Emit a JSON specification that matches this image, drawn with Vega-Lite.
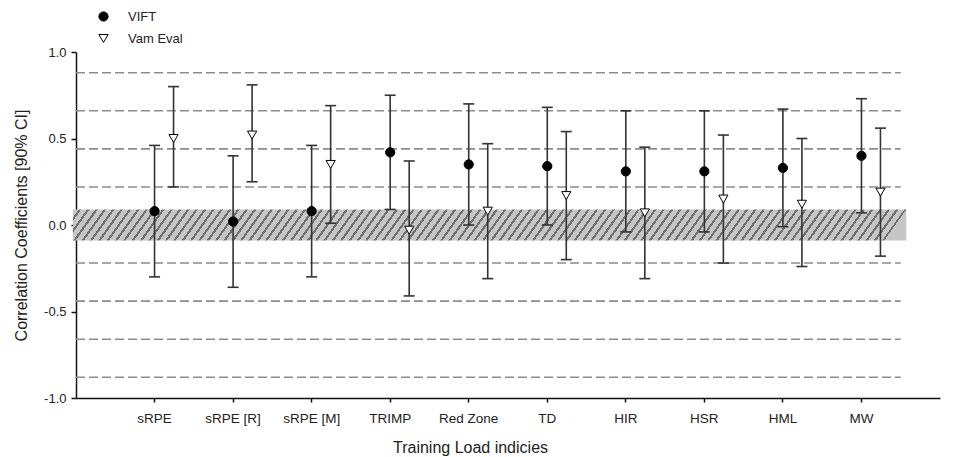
{
  "$schema": "https://vega.github.io/schema/vega-lite/v6.json",
  "width": 864,
  "height": 346,
  "autosize": "none",
  "padding": {"left": 76, "top": 52, "right": 33, "bottom": 59},
  "background": "white",
  "config": {
    "view": {"stroke": null},
    "font": "Liberation Sans",
    "axisY": {
      "labelExpr": "datum.value < 0 ? '-' + format(-datum.value, '.1f') : format(datum.value, '.1f')",
      "grid": false,
      "domainColor": "#111",
      "domainWidth": 1.5,
      "tickColor": "#111",
      "tickWidth": 1.5,
      "tickSize": 5,
      "labelFontSize": 13,
      "labelPadding": 5,
      "labelColor": "#222",
      "titleFontSize": 16,
      "titleFontWeight": "normal",
      "titleColor": "#222",
      "titlePadding": 14
    },
    "axisX": {
      "labelAngle": 0,
      "grid": false,
      "domainColor": "#111",
      "domainWidth": 1.5,
      "tickColor": "#111",
      "tickWidth": 1.5,
      "tickSize": 4,
      "labelFontSize": 13.5,
      "labelPadding": 9,
      "labelColor": "#222",
      "titleFontSize": 16,
      "titleFontWeight": "normal",
      "titleColor": "#222",
      "titlePadding": 15,
      "titleX": 394,
      "titleAlign": "center"
    }
  },
  "datasets": {
    "refs": [
      {"t": 0.88}, {"t": 0.66}, {"t": 0.44}, {"t": 0.22},
      {"t": -0.22}, {"t": -0.44}, {"t": -0.66}, {"t": -0.88}
    ],
    "band": [{"lo": -0.09, "hi": 0.09}],
    "corr": [
      {"index": "sRPE", "series": "VIFT", "r": 0.08, "lo": -0.30, "hi": 0.46},
      {"index": "sRPE", "series": "Vam Eval", "r": 0.50, "lo": 0.22, "hi": 0.80},
      {"index": "sRPE [R]", "series": "VIFT", "r": 0.02, "lo": -0.36, "hi": 0.40},
      {"index": "sRPE [R]", "series": "Vam Eval", "r": 0.52, "lo": 0.25, "hi": 0.81},
      {"index": "sRPE [M]", "series": "VIFT", "r": 0.08, "lo": -0.30, "hi": 0.46},
      {"index": "sRPE [M]", "series": "Vam Eval", "r": 0.35, "lo": 0.01, "hi": 0.69},
      {"index": "TRIMP", "series": "VIFT", "r": 0.42, "lo": 0.09, "hi": 0.75},
      {"index": "TRIMP", "series": "Vam Eval", "r": -0.03, "lo": -0.41, "hi": 0.37},
      {"index": "Red Zone", "series": "VIFT", "r": 0.35, "lo": 0.00, "hi": 0.70},
      {"index": "Red Zone", "series": "Vam Eval", "r": 0.08, "lo": -0.31, "hi": 0.47},
      {"index": "TD", "series": "VIFT", "r": 0.34, "lo": 0.00, "hi": 0.68},
      {"index": "TD", "series": "Vam Eval", "r": 0.17, "lo": -0.20, "hi": 0.54},
      {"index": "HIR", "series": "VIFT", "r": 0.31, "lo": -0.04, "hi": 0.66},
      {"index": "HIR", "series": "Vam Eval", "r": 0.07, "lo": -0.31, "hi": 0.45},
      {"index": "HSR", "series": "VIFT", "r": 0.31, "lo": -0.04, "hi": 0.66},
      {"index": "HSR", "series": "Vam Eval", "r": 0.15, "lo": -0.22, "hi": 0.52},
      {"index": "HML", "series": "VIFT", "r": 0.33, "lo": -0.01, "hi": 0.67},
      {"index": "HML", "series": "Vam Eval", "r": 0.12, "lo": -0.24, "hi": 0.50},
      {"index": "MW", "series": "VIFT", "r": 0.40, "lo": 0.07, "hi": 0.73},
      {"index": "MW", "series": "Vam Eval", "r": 0.19, "lo": -0.18, "hi": 0.56}
    ]
  },
  "layer": [
    {
      "layer": [
        {
          "data": {"name": "band"},
          "mark": {
            "type": "rect",
            "fill": {
              "gradient": "linear", "x1": 0, "y1": 0, "x2": 1, "y2": 0.0267,
              "stops": [
                {"offset":0,"color":"#c6c6c6"},
                {"offset":0.007,"color":"#c6c6c6"},{"offset":0.007,"color":"#6e6e6e"},{"offset":0.01,"color":"#6e6e6e"},{"offset":0.01,"color":"#c6c6c6"},
                {"offset":0.017,"color":"#c6c6c6"},{"offset":0.017,"color":"#6e6e6e"},{"offset":0.02,"color":"#6e6e6e"},{"offset":0.02,"color":"#c6c6c6"},
                {"offset":0.027,"color":"#c6c6c6"},{"offset":0.027,"color":"#6e6e6e"},{"offset":0.03,"color":"#6e6e6e"},{"offset":0.03,"color":"#c6c6c6"},
                {"offset":0.037,"color":"#c6c6c6"},{"offset":0.037,"color":"#6e6e6e"},{"offset":0.04,"color":"#6e6e6e"},{"offset":0.04,"color":"#c6c6c6"},
                {"offset":0.047,"color":"#c6c6c6"},{"offset":0.047,"color":"#6e6e6e"},{"offset":0.05,"color":"#6e6e6e"},{"offset":0.05,"color":"#c6c6c6"},
                {"offset":0.057,"color":"#c6c6c6"},{"offset":0.057,"color":"#6e6e6e"},{"offset":0.06,"color":"#6e6e6e"},{"offset":0.06,"color":"#c6c6c6"},
                {"offset":0.067,"color":"#c6c6c6"},{"offset":0.067,"color":"#6e6e6e"},{"offset":0.07,"color":"#6e6e6e"},{"offset":0.07,"color":"#c6c6c6"},
                {"offset":0.077,"color":"#c6c6c6"},{"offset":0.077,"color":"#6e6e6e"},{"offset":0.08,"color":"#6e6e6e"},{"offset":0.08,"color":"#c6c6c6"},
                {"offset":0.087,"color":"#c6c6c6"},{"offset":0.087,"color":"#6e6e6e"},{"offset":0.09,"color":"#6e6e6e"},{"offset":0.09,"color":"#c6c6c6"},
                {"offset":0.097,"color":"#c6c6c6"},{"offset":0.097,"color":"#6e6e6e"},{"offset":0.1,"color":"#6e6e6e"},{"offset":0.1,"color":"#c6c6c6"},
                {"offset":0.107,"color":"#c6c6c6"},{"offset":0.107,"color":"#6e6e6e"},{"offset":0.11,"color":"#6e6e6e"},{"offset":0.11,"color":"#c6c6c6"},
                {"offset":0.117,"color":"#c6c6c6"},{"offset":0.117,"color":"#6e6e6e"},{"offset":0.12,"color":"#6e6e6e"},{"offset":0.12,"color":"#c6c6c6"},
                {"offset":0.127,"color":"#c6c6c6"},{"offset":0.127,"color":"#6e6e6e"},{"offset":0.13,"color":"#6e6e6e"},{"offset":0.13,"color":"#c6c6c6"},
                {"offset":0.137,"color":"#c6c6c6"},{"offset":0.137,"color":"#6e6e6e"},{"offset":0.14,"color":"#6e6e6e"},{"offset":0.14,"color":"#c6c6c6"},
                {"offset":0.147,"color":"#c6c6c6"},{"offset":0.147,"color":"#6e6e6e"},{"offset":0.15,"color":"#6e6e6e"},{"offset":0.15,"color":"#c6c6c6"},
                {"offset":0.157,"color":"#c6c6c6"},{"offset":0.157,"color":"#6e6e6e"},{"offset":0.16,"color":"#6e6e6e"},{"offset":0.16,"color":"#c6c6c6"},
                {"offset":0.167,"color":"#c6c6c6"},{"offset":0.167,"color":"#6e6e6e"},{"offset":0.17,"color":"#6e6e6e"},{"offset":0.17,"color":"#c6c6c6"},
                {"offset":0.177,"color":"#c6c6c6"},{"offset":0.177,"color":"#6e6e6e"},{"offset":0.18,"color":"#6e6e6e"},{"offset":0.18,"color":"#c6c6c6"},
                {"offset":0.187,"color":"#c6c6c6"},{"offset":0.187,"color":"#6e6e6e"},{"offset":0.19,"color":"#6e6e6e"},{"offset":0.19,"color":"#c6c6c6"},
                {"offset":0.197,"color":"#c6c6c6"},{"offset":0.197,"color":"#6e6e6e"},{"offset":0.2,"color":"#6e6e6e"},{"offset":0.2,"color":"#c6c6c6"},
                {"offset":0.207,"color":"#c6c6c6"},{"offset":0.207,"color":"#6e6e6e"},{"offset":0.21,"color":"#6e6e6e"},{"offset":0.21,"color":"#c6c6c6"},
                {"offset":0.217,"color":"#c6c6c6"},{"offset":0.217,"color":"#6e6e6e"},{"offset":0.22,"color":"#6e6e6e"},{"offset":0.22,"color":"#c6c6c6"},
                {"offset":0.227,"color":"#c6c6c6"},{"offset":0.227,"color":"#6e6e6e"},{"offset":0.23,"color":"#6e6e6e"},{"offset":0.23,"color":"#c6c6c6"},
                {"offset":0.237,"color":"#c6c6c6"},{"offset":0.237,"color":"#6e6e6e"},{"offset":0.24,"color":"#6e6e6e"},{"offset":0.24,"color":"#c6c6c6"},
                {"offset":0.247,"color":"#c6c6c6"},{"offset":0.247,"color":"#6e6e6e"},{"offset":0.25,"color":"#6e6e6e"},{"offset":0.25,"color":"#c6c6c6"},
                {"offset":0.257,"color":"#c6c6c6"},{"offset":0.257,"color":"#6e6e6e"},{"offset":0.26,"color":"#6e6e6e"},{"offset":0.26,"color":"#c6c6c6"},
                {"offset":0.267,"color":"#c6c6c6"},{"offset":0.267,"color":"#6e6e6e"},{"offset":0.27,"color":"#6e6e6e"},{"offset":0.27,"color":"#c6c6c6"},
                {"offset":0.277,"color":"#c6c6c6"},{"offset":0.277,"color":"#6e6e6e"},{"offset":0.28,"color":"#6e6e6e"},{"offset":0.28,"color":"#c6c6c6"},
                {"offset":0.287,"color":"#c6c6c6"},{"offset":0.287,"color":"#6e6e6e"},{"offset":0.29,"color":"#6e6e6e"},{"offset":0.29,"color":"#c6c6c6"},
                {"offset":0.297,"color":"#c6c6c6"},{"offset":0.297,"color":"#6e6e6e"},{"offset":0.3,"color":"#6e6e6e"},{"offset":0.3,"color":"#c6c6c6"},
                {"offset":0.307,"color":"#c6c6c6"},{"offset":0.307,"color":"#6e6e6e"},{"offset":0.31,"color":"#6e6e6e"},{"offset":0.31,"color":"#c6c6c6"},
                {"offset":0.317,"color":"#c6c6c6"},{"offset":0.317,"color":"#6e6e6e"},{"offset":0.32,"color":"#6e6e6e"},{"offset":0.32,"color":"#c6c6c6"},
                {"offset":0.327,"color":"#c6c6c6"},{"offset":0.327,"color":"#6e6e6e"},{"offset":0.33,"color":"#6e6e6e"},{"offset":0.33,"color":"#c6c6c6"},
                {"offset":0.337,"color":"#c6c6c6"},{"offset":0.337,"color":"#6e6e6e"},{"offset":0.34,"color":"#6e6e6e"},{"offset":0.34,"color":"#c6c6c6"},
                {"offset":0.347,"color":"#c6c6c6"},{"offset":0.347,"color":"#6e6e6e"},{"offset":0.35,"color":"#6e6e6e"},{"offset":0.35,"color":"#c6c6c6"},
                {"offset":0.357,"color":"#c6c6c6"},{"offset":0.357,"color":"#6e6e6e"},{"offset":0.36,"color":"#6e6e6e"},{"offset":0.36,"color":"#c6c6c6"},
                {"offset":0.367,"color":"#c6c6c6"},{"offset":0.367,"color":"#6e6e6e"},{"offset":0.37,"color":"#6e6e6e"},{"offset":0.37,"color":"#c6c6c6"},
                {"offset":0.377,"color":"#c6c6c6"},{"offset":0.377,"color":"#6e6e6e"},{"offset":0.38,"color":"#6e6e6e"},{"offset":0.38,"color":"#c6c6c6"},
                {"offset":0.387,"color":"#c6c6c6"},{"offset":0.387,"color":"#6e6e6e"},{"offset":0.39,"color":"#6e6e6e"},{"offset":0.39,"color":"#c6c6c6"},
                {"offset":0.397,"color":"#c6c6c6"},{"offset":0.397,"color":"#6e6e6e"},{"offset":0.4,"color":"#6e6e6e"},{"offset":0.4,"color":"#c6c6c6"},
                {"offset":0.407,"color":"#c6c6c6"},{"offset":0.407,"color":"#6e6e6e"},{"offset":0.41,"color":"#6e6e6e"},{"offset":0.41,"color":"#c6c6c6"},
                {"offset":0.417,"color":"#c6c6c6"},{"offset":0.417,"color":"#6e6e6e"},{"offset":0.42,"color":"#6e6e6e"},{"offset":0.42,"color":"#c6c6c6"},
                {"offset":0.427,"color":"#c6c6c6"},{"offset":0.427,"color":"#6e6e6e"},{"offset":0.43,"color":"#6e6e6e"},{"offset":0.43,"color":"#c6c6c6"},
                {"offset":0.437,"color":"#c6c6c6"},{"offset":0.437,"color":"#6e6e6e"},{"offset":0.44,"color":"#6e6e6e"},{"offset":0.44,"color":"#c6c6c6"},
                {"offset":0.447,"color":"#c6c6c6"},{"offset":0.447,"color":"#6e6e6e"},{"offset":0.45,"color":"#6e6e6e"},{"offset":0.45,"color":"#c6c6c6"},
                {"offset":0.457,"color":"#c6c6c6"},{"offset":0.457,"color":"#6e6e6e"},{"offset":0.46,"color":"#6e6e6e"},{"offset":0.46,"color":"#c6c6c6"},
                {"offset":0.467,"color":"#c6c6c6"},{"offset":0.467,"color":"#6e6e6e"},{"offset":0.47,"color":"#6e6e6e"},{"offset":0.47,"color":"#c6c6c6"},
                {"offset":0.477,"color":"#c6c6c6"},{"offset":0.477,"color":"#6e6e6e"},{"offset":0.48,"color":"#6e6e6e"},{"offset":0.48,"color":"#c6c6c6"},
                {"offset":0.487,"color":"#c6c6c6"},{"offset":0.487,"color":"#6e6e6e"},{"offset":0.49,"color":"#6e6e6e"},{"offset":0.49,"color":"#c6c6c6"},
                {"offset":0.497,"color":"#c6c6c6"},{"offset":0.497,"color":"#6e6e6e"},{"offset":0.5,"color":"#6e6e6e"},{"offset":0.5,"color":"#c6c6c6"},
                {"offset":0.507,"color":"#c6c6c6"},{"offset":0.507,"color":"#6e6e6e"},{"offset":0.51,"color":"#6e6e6e"},{"offset":0.51,"color":"#c6c6c6"},
                {"offset":0.517,"color":"#c6c6c6"},{"offset":0.517,"color":"#6e6e6e"},{"offset":0.52,"color":"#6e6e6e"},{"offset":0.52,"color":"#c6c6c6"},
                {"offset":0.527,"color":"#c6c6c6"},{"offset":0.527,"color":"#6e6e6e"},{"offset":0.53,"color":"#6e6e6e"},{"offset":0.53,"color":"#c6c6c6"},
                {"offset":0.537,"color":"#c6c6c6"},{"offset":0.537,"color":"#6e6e6e"},{"offset":0.54,"color":"#6e6e6e"},{"offset":0.54,"color":"#c6c6c6"},
                {"offset":0.547,"color":"#c6c6c6"},{"offset":0.547,"color":"#6e6e6e"},{"offset":0.55,"color":"#6e6e6e"},{"offset":0.55,"color":"#c6c6c6"},
                {"offset":0.557,"color":"#c6c6c6"},{"offset":0.557,"color":"#6e6e6e"},{"offset":0.56,"color":"#6e6e6e"},{"offset":0.56,"color":"#c6c6c6"},
                {"offset":0.567,"color":"#c6c6c6"},{"offset":0.567,"color":"#6e6e6e"},{"offset":0.57,"color":"#6e6e6e"},{"offset":0.57,"color":"#c6c6c6"},
                {"offset":0.577,"color":"#c6c6c6"},{"offset":0.577,"color":"#6e6e6e"},{"offset":0.58,"color":"#6e6e6e"},{"offset":0.58,"color":"#c6c6c6"},
                {"offset":0.587,"color":"#c6c6c6"},{"offset":0.587,"color":"#6e6e6e"},{"offset":0.59,"color":"#6e6e6e"},{"offset":0.59,"color":"#c6c6c6"},
                {"offset":0.597,"color":"#c6c6c6"},{"offset":0.597,"color":"#6e6e6e"},{"offset":0.6,"color":"#6e6e6e"},{"offset":0.6,"color":"#c6c6c6"},
                {"offset":0.607,"color":"#c6c6c6"},{"offset":0.607,"color":"#6e6e6e"},{"offset":0.61,"color":"#6e6e6e"},{"offset":0.61,"color":"#c6c6c6"},
                {"offset":0.617,"color":"#c6c6c6"},{"offset":0.617,"color":"#6e6e6e"},{"offset":0.62,"color":"#6e6e6e"},{"offset":0.62,"color":"#c6c6c6"},
                {"offset":0.627,"color":"#c6c6c6"},{"offset":0.627,"color":"#6e6e6e"},{"offset":0.63,"color":"#6e6e6e"},{"offset":0.63,"color":"#c6c6c6"},
                {"offset":0.637,"color":"#c6c6c6"},{"offset":0.637,"color":"#6e6e6e"},{"offset":0.64,"color":"#6e6e6e"},{"offset":0.64,"color":"#c6c6c6"},
                {"offset":0.647,"color":"#c6c6c6"},{"offset":0.647,"color":"#6e6e6e"},{"offset":0.65,"color":"#6e6e6e"},{"offset":0.65,"color":"#c6c6c6"},
                {"offset":0.657,"color":"#c6c6c6"},{"offset":0.657,"color":"#6e6e6e"},{"offset":0.66,"color":"#6e6e6e"},{"offset":0.66,"color":"#c6c6c6"},
                {"offset":0.667,"color":"#c6c6c6"},{"offset":0.667,"color":"#6e6e6e"},{"offset":0.67,"color":"#6e6e6e"},{"offset":0.67,"color":"#c6c6c6"},
                {"offset":0.677,"color":"#c6c6c6"},{"offset":0.677,"color":"#6e6e6e"},{"offset":0.68,"color":"#6e6e6e"},{"offset":0.68,"color":"#c6c6c6"},
                {"offset":0.687,"color":"#c6c6c6"},{"offset":0.687,"color":"#6e6e6e"},{"offset":0.69,"color":"#6e6e6e"},{"offset":0.69,"color":"#c6c6c6"},
                {"offset":0.697,"color":"#c6c6c6"},{"offset":0.697,"color":"#6e6e6e"},{"offset":0.7,"color":"#6e6e6e"},{"offset":0.7,"color":"#c6c6c6"},
                {"offset":0.707,"color":"#c6c6c6"},{"offset":0.707,"color":"#6e6e6e"},{"offset":0.71,"color":"#6e6e6e"},{"offset":0.71,"color":"#c6c6c6"},
                {"offset":0.717,"color":"#c6c6c6"},{"offset":0.717,"color":"#6e6e6e"},{"offset":0.72,"color":"#6e6e6e"},{"offset":0.72,"color":"#c6c6c6"},
                {"offset":0.727,"color":"#c6c6c6"},{"offset":0.727,"color":"#6e6e6e"},{"offset":0.73,"color":"#6e6e6e"},{"offset":0.73,"color":"#c6c6c6"},
                {"offset":0.737,"color":"#c6c6c6"},{"offset":0.737,"color":"#6e6e6e"},{"offset":0.74,"color":"#6e6e6e"},{"offset":0.74,"color":"#c6c6c6"},
                {"offset":0.747,"color":"#c6c6c6"},{"offset":0.747,"color":"#6e6e6e"},{"offset":0.75,"color":"#6e6e6e"},{"offset":0.75,"color":"#c6c6c6"},
                {"offset":0.757,"color":"#c6c6c6"},{"offset":0.757,"color":"#6e6e6e"},{"offset":0.76,"color":"#6e6e6e"},{"offset":0.76,"color":"#c6c6c6"},
                {"offset":0.767,"color":"#c6c6c6"},{"offset":0.767,"color":"#6e6e6e"},{"offset":0.77,"color":"#6e6e6e"},{"offset":0.77,"color":"#c6c6c6"},
                {"offset":0.777,"color":"#c6c6c6"},{"offset":0.777,"color":"#6e6e6e"},{"offset":0.78,"color":"#6e6e6e"},{"offset":0.78,"color":"#c6c6c6"},
                {"offset":0.787,"color":"#c6c6c6"},{"offset":0.787,"color":"#6e6e6e"},{"offset":0.79,"color":"#6e6e6e"},{"offset":0.79,"color":"#c6c6c6"},
                {"offset":0.797,"color":"#c6c6c6"},{"offset":0.797,"color":"#6e6e6e"},{"offset":0.8,"color":"#6e6e6e"},{"offset":0.8,"color":"#c6c6c6"},
                {"offset":0.807,"color":"#c6c6c6"},{"offset":0.807,"color":"#6e6e6e"},{"offset":0.81,"color":"#6e6e6e"},{"offset":0.81,"color":"#c6c6c6"},
                {"offset":0.817,"color":"#c6c6c6"},{"offset":0.817,"color":"#6e6e6e"},{"offset":0.82,"color":"#6e6e6e"},{"offset":0.82,"color":"#c6c6c6"},
                {"offset":0.827,"color":"#c6c6c6"},{"offset":0.827,"color":"#6e6e6e"},{"offset":0.83,"color":"#6e6e6e"},{"offset":0.83,"color":"#c6c6c6"},
                {"offset":0.837,"color":"#c6c6c6"},{"offset":0.837,"color":"#6e6e6e"},{"offset":0.84,"color":"#6e6e6e"},{"offset":0.84,"color":"#c6c6c6"},
                {"offset":0.847,"color":"#c6c6c6"},{"offset":0.847,"color":"#6e6e6e"},{"offset":0.85,"color":"#6e6e6e"},{"offset":0.85,"color":"#c6c6c6"},
                {"offset":0.857,"color":"#c6c6c6"},{"offset":0.857,"color":"#6e6e6e"},{"offset":0.86,"color":"#6e6e6e"},{"offset":0.86,"color":"#c6c6c6"},
                {"offset":0.867,"color":"#c6c6c6"},{"offset":0.867,"color":"#6e6e6e"},{"offset":0.87,"color":"#6e6e6e"},{"offset":0.87,"color":"#c6c6c6"},
                {"offset":0.877,"color":"#c6c6c6"},{"offset":0.877,"color":"#6e6e6e"},{"offset":0.88,"color":"#6e6e6e"},{"offset":0.88,"color":"#c6c6c6"},
                {"offset":0.887,"color":"#c6c6c6"},{"offset":0.887,"color":"#6e6e6e"},{"offset":0.89,"color":"#6e6e6e"},{"offset":0.89,"color":"#c6c6c6"},
                {"offset":0.897,"color":"#c6c6c6"},{"offset":0.897,"color":"#6e6e6e"},{"offset":0.9,"color":"#6e6e6e"},{"offset":0.9,"color":"#c6c6c6"},
                {"offset":0.907,"color":"#c6c6c6"},{"offset":0.907,"color":"#6e6e6e"},{"offset":0.91,"color":"#6e6e6e"},{"offset":0.91,"color":"#c6c6c6"},
                {"offset":0.917,"color":"#c6c6c6"},{"offset":0.917,"color":"#6e6e6e"},{"offset":0.92,"color":"#6e6e6e"},{"offset":0.92,"color":"#c6c6c6"},
                {"offset":0.927,"color":"#c6c6c6"},{"offset":0.927,"color":"#6e6e6e"},{"offset":0.93,"color":"#6e6e6e"},{"offset":0.93,"color":"#c6c6c6"},
                {"offset":0.937,"color":"#c6c6c6"},{"offset":0.937,"color":"#6e6e6e"},{"offset":0.94,"color":"#6e6e6e"},{"offset":0.94,"color":"#c6c6c6"},
                {"offset":0.947,"color":"#c6c6c6"},{"offset":0.947,"color":"#6e6e6e"},{"offset":0.95,"color":"#6e6e6e"},{"offset":0.95,"color":"#c6c6c6"},
                {"offset":0.957,"color":"#c6c6c6"},{"offset":0.957,"color":"#6e6e6e"},{"offset":0.96,"color":"#6e6e6e"},{"offset":0.96,"color":"#c6c6c6"},
                {"offset":0.967,"color":"#c6c6c6"},{"offset":0.967,"color":"#6e6e6e"},{"offset":0.97,"color":"#6e6e6e"},{"offset":0.97,"color":"#c6c6c6"},
                {"offset":0.977,"color":"#c6c6c6"},{"offset":0.977,"color":"#6e6e6e"},{"offset":0.98,"color":"#6e6e6e"},{"offset":0.98,"color":"#c6c6c6"},
                {"offset":0.987,"color":"#c6c6c6"},{"offset":0.987,"color":"#6e6e6e"},{"offset":0.99,"color":"#6e6e6e"},{"offset":0.99,"color":"#c6c6c6"},
                {"offset":0.997,"color":"#c6c6c6"},{"offset":0.997,"color":"#6e6e6e"},{"offset":0.9995,"color":"#6e6e6e"},{"offset":0.9995,"color":"#c6c6c6"},
                {"offset":1,"color":"#c6c6c6"}
              ]
            }
          },
          "encoding": {
            "x": {"datum": -0.04, "type": "quantitative", "scale": {"domain": [0, 11]}, "axis": null},
            "x2": {"datum": 10.57},
            "y": {"field": "lo", "type": "quantitative", "scale": {"domain": [-1, 1]}, "title": "Correlation Coefficients [90% CI]", "axis": {"values": [-1, -0.5, 0, 0.5, 1]}},
            "y2": {"field": "hi"}
          }
        },
        {
          "data": {"name": "refs"},
          "mark": {"type": "rule", "stroke": "#8c8c8c", "strokeWidth": 1.6, "strokeDash": [9, 4]},
          "encoding": {
            "x": {"datum": 0, "type": "quantitative", "scale": {"domain": [0, 11]}, "axis": null},
            "x2": {"datum": 10.5},
            "y": {"field": "t", "type": "quantitative", "title": "Correlation Coefficients [90% CI]"}
          }
        }
      ]
    },
    {
      "data": {"name": "corr"},
      "layer": [
        {
          "transform": [{"filter": "datum.series === 'VIFT'"}],
          "encoding": {
            "x": {
              "field": "index", "type": "nominal",
              "scale": {"type": "band", "domain": ["sRPE", "sRPE [R]", "sRPE [M]", "TRIMP", "Red Zone", "TD", "HIR", "HSR", "HML", "MW"], "paddingInner": 0, "paddingOuter": 0.5},
              "title": "Training Load indicies"
            }
          },
          "layer": [
            {
              "mark": {"type": "rule", "stroke": "#333", "strokeWidth": 1.6},
              "encoding": {
                "y": {"field": "lo", "type": "quantitative", "title": "Correlation Coefficients [90% CI]"},
                "y2": {"field": "hi"}
              }
            },
            {
              "mark": {"type": "point", "shape": "M-1,0L1,0", "filled": false, "stroke": "#333", "strokeWidth": 1.6, "size": 121, "opacity": 1},
              "encoding": {"y": {"field": "lo", "type": "quantitative", "title": "Correlation Coefficients [90% CI]"}}
            },
            {
              "mark": {"type": "point", "shape": "M-1,0L1,0", "filled": false, "stroke": "#333", "strokeWidth": 1.6, "size": 121, "opacity": 1},
              "encoding": {"y": {"field": "hi", "type": "quantitative", "title": "Correlation Coefficients [90% CI]"}}
            },
            {
              "mark": {"type": "point", "filled": true, "strokeWidth": 1, "size": 85, "opacity": 1},
              "encoding": {
                "y": {"field": "r", "type": "quantitative", "title": "Correlation Coefficients [90% CI]"},
                "shape": {"field": "series", "type": "nominal", "scale": {"domain": ["VIFT", "Vam Eval"], "range": ["circle", "triangle-down"]},
                  "legend": {"title": null, "orient": "none", "legendX": 21, "legendY": -42, "labelFontSize": 13, "labelOffset": 18, "rowPadding": 8, "symbolSize": 85, "symbolStrokeWidth": 1, "padding": 0, "labelColor": "#222"}},
                "fill": {"field": "series", "type": "nominal", "scale": {"domain": ["VIFT", "Vam Eval"], "range": ["black", "white"]},
                  "legend": {"title": null, "orient": "none", "legendX": 21, "legendY": -42, "labelFontSize": 13, "labelOffset": 18, "rowPadding": 8, "symbolSize": 85, "symbolStrokeWidth": 1, "padding": 0, "labelColor": "#222"}},
                "stroke": {"field": "series", "type": "nominal", "scale": {"domain": ["VIFT", "Vam Eval"], "range": ["black", "black"]},
                  "legend": {"title": null, "orient": "none", "legendX": 21, "legendY": -42, "labelFontSize": 13, "labelOffset": 18, "rowPadding": 8, "symbolSize": 85, "symbolStrokeWidth": 1, "padding": 0, "labelColor": "#222"}}
              }
            }
          ]
        },
        {
          "transform": [{"filter": "datum.series === 'Vam Eval'"}],
          "encoding": {
            "x": {
              "field": "index", "type": "nominal", "bandPosition": 0.742,
              "scale": {"type": "band", "domain": ["sRPE", "sRPE [R]", "sRPE [M]", "TRIMP", "Red Zone", "TD", "HIR", "HSR", "HML", "MW"], "paddingInner": 0, "paddingOuter": 0.5},
              "title": "Training Load indicies"
            }
          },
          "layer": [
            {
              "mark": {"type": "rule", "stroke": "#333", "strokeWidth": 1.6},
              "encoding": {
                "y": {"field": "lo", "type": "quantitative", "title": "Correlation Coefficients [90% CI]"},
                "y2": {"field": "hi"}
              }
            },
            {
              "mark": {"type": "point", "shape": "M-1,0L1,0", "filled": false, "stroke": "#333", "strokeWidth": 1.6, "size": 121, "opacity": 1},
              "encoding": {"y": {"field": "lo", "type": "quantitative", "title": "Correlation Coefficients [90% CI]"}}
            },
            {
              "mark": {"type": "point", "shape": "M-1,0L1,0", "filled": false, "stroke": "#333", "strokeWidth": 1.6, "size": 121, "opacity": 1},
              "encoding": {"y": {"field": "hi", "type": "quantitative", "title": "Correlation Coefficients [90% CI]"}}
            },
            {
              "mark": {"type": "point", "filled": true, "strokeWidth": 1, "size": 85, "opacity": 1},
              "encoding": {
                "y": {"field": "r", "type": "quantitative", "title": "Correlation Coefficients [90% CI]"},
                "shape": {"field": "series", "type": "nominal", "scale": {"domain": ["VIFT", "Vam Eval"], "range": ["circle", "triangle-down"]},
                  "legend": {"title": null, "orient": "none", "legendX": 21, "legendY": -42, "labelFontSize": 13, "labelOffset": 18, "rowPadding": 8, "symbolSize": 85, "symbolStrokeWidth": 1, "padding": 0, "labelColor": "#222"}},
                "fill": {"field": "series", "type": "nominal", "scale": {"domain": ["VIFT", "Vam Eval"], "range": ["black", "white"]},
                  "legend": {"title": null, "orient": "none", "legendX": 21, "legendY": -42, "labelFontSize": 13, "labelOffset": 18, "rowPadding": 8, "symbolSize": 85, "symbolStrokeWidth": 1, "padding": 0, "labelColor": "#222"}},
                "stroke": {"field": "series", "type": "nominal", "scale": {"domain": ["VIFT", "Vam Eval"], "range": ["black", "black"]},
                  "legend": {"title": null, "orient": "none", "legendX": 21, "legendY": -42, "labelFontSize": 13, "labelOffset": 18, "rowPadding": 8, "symbolSize": 85, "symbolStrokeWidth": 1, "padding": 0, "labelColor": "#222"}}
              }
            }
          ]
        }
      ]
    }
  ],
  "resolve": {"scale": {"x": "independent"}}
}
